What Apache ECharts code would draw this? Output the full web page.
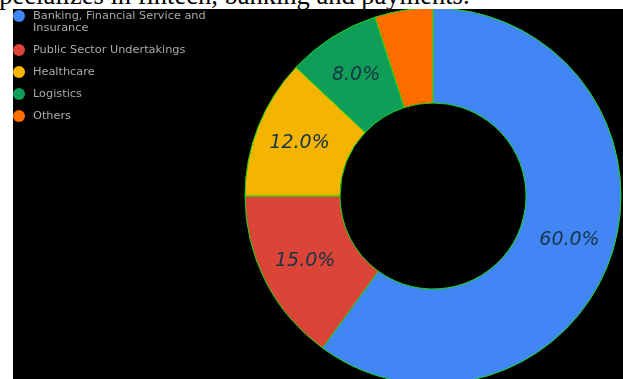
<!DOCTYPE html>
<html>
<head>
<meta charset="utf-8">
<script src="https://cdn.jsdelivr.net/npm/echarts@6/dist/echarts.min.js"></script>
<style>
html,body{margin:0;padding:0;background:#fff;width:623px;height:379px;overflow:hidden;}
#cap{position:absolute;left:-11px;top:-20px;font-family:"Liberation Serif","Times New Roman",serif;font-size:26.5px;line-height:30px;white-space:nowrap;color:#000;}
#chart{position:absolute;left:13px;top:9px;width:610px;height:370px;background:#000;}
</style>
</head>
<body>
<div id="cap">specializes in fintech, banking and payments.</div>
<div id="chart"></div>
<script>
const categories = [
  "Banking, Financial Service and Insurance",
  "Public Sector Undertakings",
  "Healthcare",
  "Logistics",
  "Others"
];
const values = [60, 15, 12, 8, 5];
const colors = ["#4285F4", "#DB4437", "#F4B400", "#0F9D58", "#FF6D00"];
const hiddenLabels = ["Others"];

const chart = echarts.init(document.getElementById('chart'), null, {renderer: 'canvas'});

chart.setOption({
  backgroundColor: '#000',
  animation: false,
  color: colors,
  legend: {
    orient: 'vertical',
    left: 0,
    top: -11,
    padding: 0,
    itemWidth: 12,
    itemHeight: 12,
    itemGap: 10,
    icon: 'circle',
    itemStyle: {borderWidth: 0},
    data: categories,
    formatter: function (name) {
      // wrap long name; leading blank line keeps the marker beside the first line
      return name.indexOf('and ') >= 0 ? '\n' + name.replace('and ', 'and\n') : name;
    },
    textStyle: {
      color: '#aaaaaa',
      fontFamily: '"DejaVu Sans", sans-serif',
      fontSize: 11.3,
      lineHeight: 12,
      padding: [0, 0, 0, 3]
    }
  },
  series: [{
    type: 'pie',
    center: [420, 187],
    radius: [93, 188],
    startAngle: 90,
    clockwise: true,
    avoidLabelOverlap: false,
    silent: true,
    itemStyle: {borderColor: '#18d818', borderWidth: 1},
    label: {
      show: true,
      position: 'inside',
      color: '#173547',
      fontFamily: '"DejaVu Sans", sans-serif',
      fontStyle: 'italic',
      fontSize: 19,
      formatter: function (p) { return p.percent.toFixed(1) + '%'; }
    },
    labelLine: {show: false},
    emphasis: {disabled: true},
    data: categories.map((name, i) => ({
      name: name,
      value: values[i],
      label: hiddenLabels.indexOf(name) >= 0 ? {show: false} : undefined
    }))
  }]
});
</script>
</body>
</html>
